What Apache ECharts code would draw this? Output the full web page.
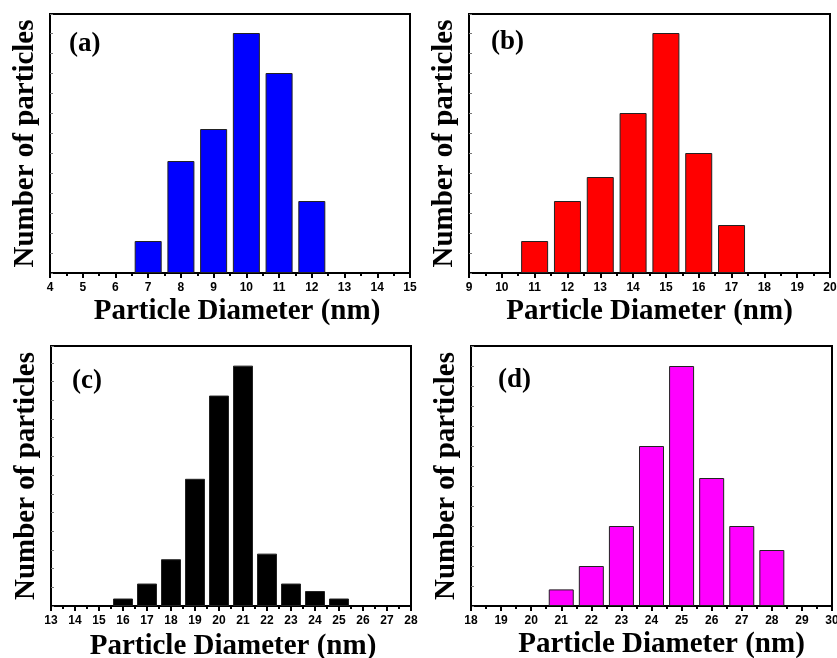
<!DOCTYPE html>
<html>
<head>
<meta charset="utf-8">
<script src="https://cdn.jsdelivr.net/npm/echarts@6/dist/echarts.min.js"></script>
<style>
  html, body { margin: 0; padding: 0; background: #fff; }
  #chart { width: 837px; height: 658px; }
</style>
</head>
<body>
<div id="chart"></div>
<script>
// diameters (nm) and relative counts
var diamA = [7, 8, 9, 10, 11, 12];
var countA = [1.6, 5.6, 7.2, 12, 10, 3.6];
var diamB = [11, 12, 13, 14, 15, 16, 17];
var countB = [1.6, 3.6, 4.8, 8.0, 12, 6.0, 2.4];
var diamC = [16, 17, 18, 19, 20, 21, 22, 23, 24, 25];
var countC = [0.4, 1.2, 2.5, 6.8, 11.25, 12.85, 2.8, 1.2, 0.8, 0.4];
var diamD = [21, 22, 23, 24, 25, 26, 27, 28];
var countD = [0.83, 2, 4, 8, 12, 6.4, 4, 2.8];

var xRanges = [[4, 15], [9, 20], [13, 28], [18, 30]];
var yMax = [12.95, 12.95, 13.9, 13.0];
var panelLabels = ["(a)", "(b)", "(c)", "(d)"];
var barColors = ["#0000ff", "#ff0000", "#000000", "#ff00ff"];
var xTitle = "Particle Diameter (nm)";
var yTitle = "Number of particles";

var grids = [
  { left: 50, top: 14, width: 360, height: 259 },
  { left: 469, top: 14, width: 361, height: 259 },
  { left: 51, top: 346, width: 360, height: 260 },
  { left: 471, top: 346, width: 361, height: 260 }
];
var barWidths = [27, 27, 20, 25];
var labelPos = [[69, 31], [491, 29], [72, 368], [498, 367]];
// small nudges so the x titles sit like the original
var xNameGap = [24, 24, 26, 24];
var xNameShift = [14, 0, 4, 20];

var diams = [diamA, diamB, diamC, diamD];
var counts = [countA, countB, countC, countD];

var serif = "'Liberation Serif', 'Times New Roman', serif";
var sans = "'Liberation Sans', Arial, sans-serif";

var option = {
  animation: false,
  backgroundColor: "#fff",
  grid: grids.map(function (g) {
    return Object.assign({
      show: true, borderColor: "#000", borderWidth: 2, backgroundColor: "transparent",
      containLabel: false, outerBoundsMode: "none"
    }, g);
  }),
  xAxis: xRanges.map(function (r, i) {
    return {
      type: "value",
      gridIndex: i,
      min: r[0],
      max: r[1],
      interval: 1,
      name: xTitle,
      nameLocation: "middle",
      nameGap: xNameGap[i],
      nameTextStyle: {
        fontFamily: serif, fontWeight: "bold", fontSize: 29, color: "#000",
        padding: [0, 0, 0, xNameShift[i]]
      },
      axisLine: { show: true, lineStyle: { color: "#000", width: 2 } },
      axisTick: { show: true, inside: false, length: 5, lineStyle: { color: "#000", width: 2 } },
      minorTick: { show: true, splitNumber: 2, length: 3, lineStyle: { color: "#000", width: 2 } },
      axisLabel: { fontFamily: sans, fontWeight: "bold", fontSize: 12, color: "#000", margin: 9 },
      splitLine: { show: false }
    };
  }),
  yAxis: yMax.map(function (m, i) {
    return {
      type: "value",
      gridIndex: i,
      min: 0,
      max: m,
      interval: 1,
      name: yTitle,
      nameLocation: "middle",
      nameGap: 10,
      nameTextStyle: { fontFamily: serif, fontWeight: "bold", fontSize: 29, color: "#000" },
      axisLine: { show: true, lineStyle: { color: "#000", width: 2 } },
      axisTick: { show: true, inside: true, length: 3, lineStyle: { color: "#777", width: 1 } },
      axisLabel: { show: false },
      splitLine: { show: false }
    };
  }),
  series: diams.map(function (d, i) {
    return {
      type: "bar",
      xAxisIndex: i,
      yAxisIndex: i,
      barWidth: barWidths[i],
      data: d.map(function (x, j) { return [x, counts[i][j]]; }),
      itemStyle: { color: barColors[i], borderColor: "#222", borderWidth: 1 }
    };
  }),
  graphic: panelLabels.map(function (t, i) {
    return {
      type: "text",
      left: labelPos[i][0],
      top: labelPos[i][1],
      style: { text: t, font: "bold 27px " + serif, fill: "#000" }
    };
  })
};

var chart = echarts.init(document.getElementById("chart"));
chart.setOption(option);
</script>
</body>
</html>
